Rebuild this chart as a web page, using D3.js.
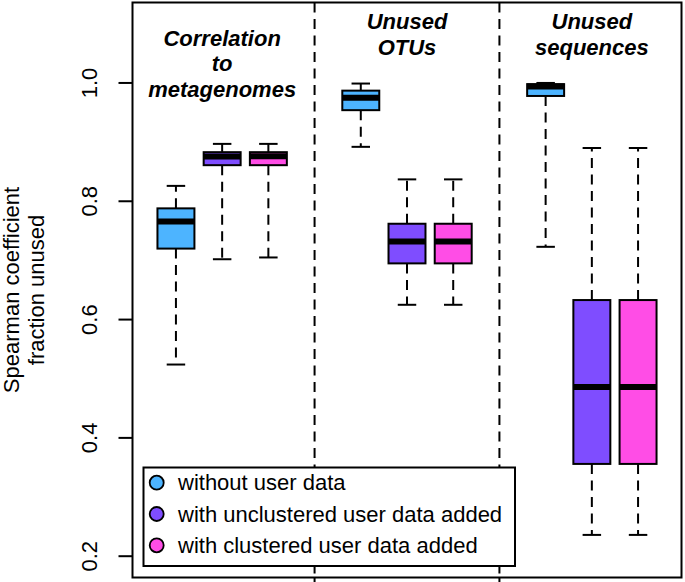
<!DOCTYPE html>
<html>
<head>
<meta charset="utf-8">
<script src="https://cdn.jsdelivr.net/npm/d3@7"></script>
<style>
  html, body { margin: 0; padding: 0; background: #fff; }
  svg { display: block; }
  text { font-family: "Liberation Sans", Arial, Helvetica, sans-serif; fill: #000; }
</style>
</head>
<body>
<svg id="chart" width="685" height="582"></svg>
<script>
// ---------- data ----------
const groups = [
  ["Correlation", "to", "metagenomes"],
  ["Unused", "OTUs"],
  ["Unused", "sequences"]
];
const groupPositions = [2, 6, 10];
const dividerPositions = [4, 8];
const seriesNames = ["without user data", "with unclustered user data added", "with clustered user data added"];
const seriesColors = ["#4DB4FF", "#7F4DFF", "#FF4DE6"];
const boxPositions = [[1, 5, 9], [2, 6, 10], [3, 7, 11]];

// [whisker low, q1, median, q3, whisker high] per group
const withoutUser = [
  [0.524, 0.720, 0.766, 0.788, 0.826],
  [0.892, 0.954, 0.975, 0.987, 0.999],
  [0.723, 0.978, 0.994, 0.998, 1.000]
];
const unclustered = [
  [0.702, 0.861, 0.8755, 0.883, 0.897],
  [0.625, 0.695, 0.732, 0.762, 0.837],
  [0.236, 0.356, 0.486, 0.633, 0.890]
];
const clustered = [
  [0.705, 0.861, 0.876, 0.883, 0.897],
  [0.625, 0.695, 0.732, 0.762, 0.837],
  [0.236, 0.356, 0.486, 0.633, 0.890]
];
const seriesValues = [withoutUser, unclustered, clustered];
const yTicks = [0.2, 0.4, 0.6, 0.8, 1.0];
const yTitle = ["Spearman coefficient", "fraction unused"];

// ---------- layout ----------
const svg = d3.select("#chart");
const plot = { left: 132.5, right: 681.5, top: 2.5, bottom: 577.5 };
const x = d3.scaleLinear().domain([0.06, 11.94]).range([plot.left, plot.right]);
const y = d3.scaleLinear().domain([0.164, 1.136]).range([plot.bottom, plot.top]);
const boxW = x(0.8) - x(0);
const FS = 22;
const dash = "10,6.5";

// dividers
svg.append("g").selectAll("line").data(dividerPositions).join("line")
  .attr("x1", d => x(d)).attr("x2", d => x(d))
  .attr("y1", plot.top).attr("y2", plot.bottom)
  .attr("stroke", "#000").attr("stroke-width", 2).attr("stroke-dasharray", dash);

// boxes
const boxes = [];
seriesValues.forEach((vals, si) => {
  vals.forEach((v, gi) => boxes.push({ s: si, pos: boxPositions[si][gi], v }));
});
const bg = svg.append("g");
boxes.forEach(b => {
  const cx = x(b.pos);
  const [lo, q1, med, q3, hi] = b.v;
  const g = bg.append("g");
  // whiskers
  g.append("line").attr("x1", cx).attr("x2", cx).attr("y1", y(q3)).attr("y2", y(hi))
    .attr("stroke", "#000").attr("stroke-width", 2).attr("stroke-dasharray", dash);
  g.append("line").attr("x1", cx).attr("x2", cx).attr("y1", y(q1)).attr("y2", y(lo))
    .attr("stroke", "#000").attr("stroke-width", 2).attr("stroke-dasharray", dash);
  // caps
  [lo, hi].forEach(c => {
    g.append("line").attr("x1", cx - boxW / 4).attr("x2", cx + boxW / 4)
      .attr("y1", y(c)).attr("y2", y(c)).attr("stroke", "#000").attr("stroke-width", 2);
  });
  // box
  g.append("rect").attr("x", cx - boxW / 2).attr("width", boxW)
    .attr("y", y(q3)).attr("height", y(q1) - y(q3))
    .attr("fill", seriesColors[b.s]).attr("stroke", "#000").attr("stroke-width", 2);
  // median
  g.append("line").attr("x1", cx - boxW / 2).attr("x2", cx + boxW / 2)
    .attr("y1", y(med)).attr("y2", y(med)).attr("stroke", "#000").attr("stroke-width", 6);
});

// group titles
groups.forEach((lines, gi) => {
  const t = svg.append("text").attr("text-anchor", "middle")
    .attr("font-size", FS).attr("font-weight", "bold").attr("font-style", "italic");
  const startY = lines.length === 3 ? 45.5 : 29;
  lines.forEach((l, li) => {
    t.append("tspan").attr("x", x(groupPositions[gi])).attr("y", startY + li * 25.8).text(l);
  });
});

// frame
svg.append("rect").attr("x", plot.left).attr("y", plot.top)
  .attr("width", plot.right - plot.left).attr("height", plot.bottom - plot.top)
  .attr("fill", "none").attr("stroke", "#000").attr("stroke-width", 2);

// y axis
const yAxis = svg.append("g");
yTicks.forEach(t => {
  yAxis.append("line").attr("x1", plot.left - 14).attr("x2", plot.left)
    .attr("y1", y(t)).attr("y2", y(t)).attr("stroke", "#000").attr("stroke-width", 2);
  yAxis.append("text").attr("transform", `translate(97,${y(t)}) rotate(-90)`)
    .attr("text-anchor", "middle").attr("font-size", FS).text(d3.format(".1f")(t));
});
// bottom ticks
svg.append("g").selectAll("line").data(dividerPositions).join("line")
  .attr("x1", d => x(d)).attr("x2", d => x(d))
  .attr("y1", plot.bottom).attr("y2", plot.bottom + 10)
  .attr("stroke", "#000").attr("stroke-width", 2);

// y title
const midY = (plot.top + plot.bottom) / 2;
yTitle.forEach((l, i) => {
  svg.append("text").attr("transform", `translate(${19 + i * 25},${midY}) rotate(-90)`)
    .attr("text-anchor", "middle").attr("font-size", FS).text(l);
});

// legend
const lg = svg.append("g");
lg.append("rect").attr("x", 143.5).attr("y", 467.5).attr("width", 371.5).attr("height", 98.5)
  .attr("fill", "#fff").attr("stroke", "#000").attr("stroke-width", 2);
seriesNames.forEach((n, i) => {
  const cy = 482.7 + i * 31.3;
  lg.append("circle").attr("cx", 156.7).attr("cy", cy).attr("r", 7)
    .attr("fill", seriesColors[i]).attr("stroke", "#000").attr("stroke-width", 1.8);
  lg.append("text").attr("x", 178).attr("y", cy + 7.5).attr("font-size", FS).text(n);
});
</script>
</body>
</html>
